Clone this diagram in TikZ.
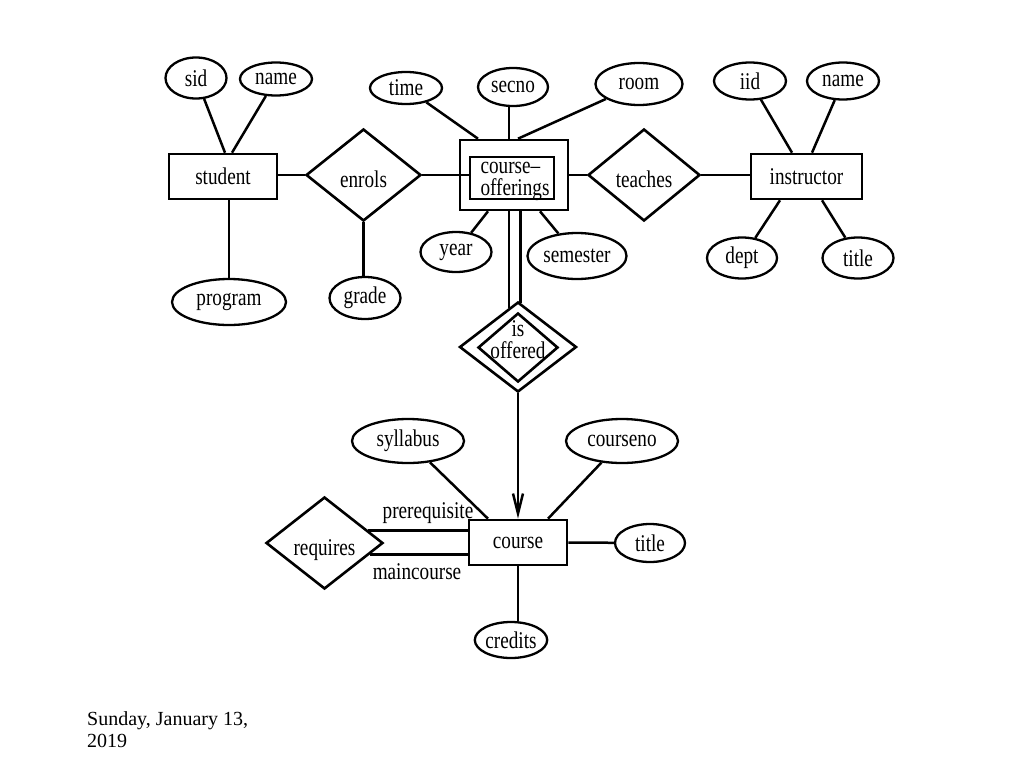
\documentclass[tikz,border=0pt]{standalone}
\usepackage{fontspec}
\setmainfont{Liberation Serif}
\newfontfamily\erfont[FakeStretch=0.8]{Liberation Serif}
\usetikzlibrary{shapes.geometric,arrows.meta}
\begin{document}
\begin{tikzpicture}[x=1pt,y=-1pt,
  every node/.style={font=\erfont\fontsize{24}{22}\selectfont, inner sep=0pt},
  attr/.style={ellipse,draw,line width=2.3pt},
  ent/.style={rectangle,draw,line width=2.6pt},
  rel/.style={diamond,draw,line width=2.6pt,text height=24pt,text depth=0pt},
  conn/.style={line width=2.5pt},
  datetxt/.style={font=\rmfamily\fontsize{20}{22}\selectfont,anchor=base west}]
\useasboundingbox[fill=white] (0,0) rectangle (1024,768);

% student side
\node[ent,minimum width=108,minimum height=45] (student) at (223,176.5) {student};
\node[attr,minimum width=61,minimum height=41] (sid) at (196,78) {sid};
\node[attr,minimum width=72,minimum height=33] (sname) at (276,79) {name};
\node[attr,minimum width=114,minimum height=46] (program) at (229,302) {program};
\node[rel,minimum width=115,minimum height=92] (enrols) at (363.5,175) {enrols};
\node[attr,minimum width=71,minimum height=42] (grade) at (365,298) {grade};

% course-offerings
\node[ent,minimum width=108,minimum height=70] (cofo) at (514,175) {};
\node[ent,minimum width=84,minimum height=42] (cofi) at (512,178) {};
\node[align=left] (cotxt) at (515,181) {course–\\offerings};
\node[attr,minimum width=72,minimum height=32] (time) at (406,88) {time};
\node[attr,minimum width=70,minimum height=38] (secno) at (513,87) {secno};
\node[attr,minimum width=87,minimum height=42] (room) at (639,84) {room};
\node[attr,minimum width=71,minimum height=40] (year) at (456,252) {year};
\node[attr,minimum width=99,minimum height=46] (semester) at (577,256) {semester};

% teaches / instructor
\node[rel,minimum width=112,minimum height=92] (teaches) at (644,175) {teaches};
\node[ent,minimum width=111,minimum height=45] (instructor) at (806.5,176.5) {instructor};
\node[attr,minimum width=72,minimum height=37] (iid) at (750,81) {iid};
\node[attr,minimum width=72,minimum height=37] (iname) at (843,81) {name};
\node[attr,minimum width=70,minimum height=41] (dept) at (742,258) {dept};
\node[attr,minimum width=71,minimum height=41] (ititle) at (858,258) {title};

% is offered
\node[rel,minimum width=117,minimum height=90] (isoff) at (518,347) {};
\node[rel,minimum width=80,minimum height=69] (isoffi) at (518,347.5) {};
\node[align=center] (isofftxt) at (518,340) {is\\offered};

% course
\node[ent,minimum width=98,minimum height=45] (course) at (518,542.5) {course};
\node[attr,minimum width=112,minimum height=44] (syllabus) at (408,441) {syllabus};
\node[attr,minimum width=112,minimum height=44] (courseno) at (622,441) {courseno};
\node[attr,minimum width=70,minimum height=38] (ctitle) at (650,543) {title};
\node[attr,minimum width=70,minimum height=36] (credits) at (511,640) {credits};
\node[rel,minimum width=117,minimum height=92] (requires) at (324.5,543) {requires};
\node (prereq) at (428,513) {prerequisite};
\node (mainc) at (417,572) {maincourse};

% date
\node[datetxt] (d1) at (87,725) {Sunday, January 13,};
\node[datetxt] (d2) at (87,747) {2019};

% connectors
\draw[conn] (sid) -- ([xshift=2pt]student.north);
\draw[conn] (sname) -- ([xshift=9pt]student.north);
\draw[conn] (student.south -| program.north) -- (program.north);
\draw[conn] (student.east |- enrols.west) -- (enrols.west);
\draw[conn] (enrols.south) -- (enrols.south |- grade.north);
\draw[conn] (enrols.east) -- (enrols.east -| cofi.west);

\draw[conn] (time) -- ([xshift=-36pt]cofo.north);
\draw[conn] (secno.south -| 509,0) -- ([xshift=-5pt]cofo.north);
\draw[conn] (room) -- ([xshift=4pt]cofo.north);
\draw[conn] ([xshift=-26pt]cofo.south) -- (year);
\draw[conn] ([xshift=26pt]cofo.south) -- (semester);

\draw[conn] (teaches.west -| cofo.east) -- (teaches.west);
\draw[conn] (teaches.east) -- (teaches.east -| instructor.west);
\draw[conn] (iid) -- ([xshift=-14.5pt]instructor.north);
\draw[conn] (iname) -- ([xshift=5.5pt]instructor.north);
\draw[conn] ([xshift=-26.5pt]instructor.south) -- (dept);
\draw[conn] ([xshift=15.5pt]instructor.south) -- (ititle);

\draw[conn] (isoff.103 |- cofo.south) -- (isoff.103);
\draw[conn] (isoff.87 |- cofo.south) -- (isoff.87);
\draw[conn,-{Straight Barb[length=20pt,width=10pt]}] (isoff.south) -- (course.north);

\draw[conn] (syllabus) -- ([xshift=-30pt]course.north);
\draw[conn] (courseno) -- ([xshift=30pt]course.north);
\draw[conn] (course.east) -- (ctitle);
\draw[conn] (course.south) -- (course.south |- credits.north);
\draw[conn] (requires.16) -- (requires.16 -| course.west);
\draw[conn] (requires.-14) -- (requires.-14 -| course.west);
\end{tikzpicture}
\end{document}
